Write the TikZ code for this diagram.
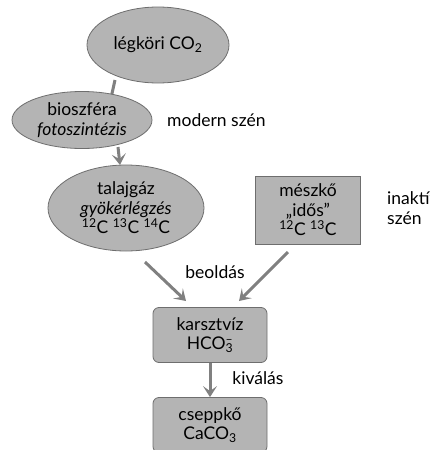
\documentclass[tikz,border=0pt]{standalone}
\usepackage{fontspec}
\setmainfont{Lato}
\usetikzlibrary{shapes.geometric,arrows.meta}
\definecolor{boxfill}{HTML}{B4B4B4}
\definecolor{boxdraw}{HTML}{6E6E6E}
\definecolor{arr}{HTML}{808080}
\begin{document}
\begin{tikzpicture}[x=1pt,y=-1pt,
  every node/.style={font=\fontsize{17.5}{19.5}\selectfont, inner sep=0pt},
  oval/.style={ellipse, draw=boxdraw, fill=boxfill, line width=0.8pt, align=center},
  rbox/.style={draw=boxdraw, fill=boxfill, line width=0.8pt, rounded corners=6pt, align=center},
  sbox/.style={draw=boxdraw, fill=boxfill, line width=0.8pt, align=center},
  flow/.style={draw=arr, line width=3pt, -{Stealth[length=11pt,width=14pt,inset=5pt]}},
  plain/.style={draw=arr, line width=3pt},
  lbl/.style={align=left}]
\useasboundingbox (0,0) rectangle (429,450);
\coordinate (a1) at (115,80);
\coordinate (a2) at (111,98);
\draw[plain] (a1) -- (a2);
\node[oval, minimum width=142pt, minimum height=76pt] (atm) at (158,45) {légköri CO\textsubscript{2}};
\node[oval, minimum width=140pt, minimum height=57pt] (bio) at (82,120) {bioszféra\\\textit{fotoszintézis}};
\node[oval, minimum width=156pt, minimum height=86pt] (soil) at (126,208) {talajgáz\\\textit{gyökérlégzés}\\\textsuperscript{12}C \textsuperscript{13}C \textsuperscript{14}C};
\node[sbox, minimum width=105pt, minimum height=68pt] (lime) at (308,210) {mészkő\\„idős”\\\textsuperscript{12}C \textsuperscript{13}C};
\node[rbox, minimum width=114pt, minimum height=55pt] (karst) at (210,335) {karsztvíz\\HCO\textsubscript{3}\llap{\textsuperscript{–}}};
\node[rbox, minimum width=114pt, minimum height=55pt] (drip) at (210,425) {cseppkő\\CaCO\textsubscript{3}};
\node[lbl, anchor=west] (modern) at (167,120) {modern szén};
\node[lbl, anchor=west] (inakt) at (387,208) {inaktív\\szén};
\node (beold) at (215,272) {beoldás};
\node (kival) at (258,378) {kiválás};
\coordinate (b1) at (118,147);
\coordinate (b2) at (120,165);
\draw[flow] (b1) -- (b2);
\coordinate (c1) at (145,262);
\coordinate (c2) at (186,301);
\draw[flow] (c1) -- (c2);
\coordinate (d1) at (288,252);
\coordinate (d2) at (239,301);
\draw[flow] (d1) -- (d2);
\draw[flow] (karst.south) -- (drip.north);
\end{tikzpicture}
\end{document}
